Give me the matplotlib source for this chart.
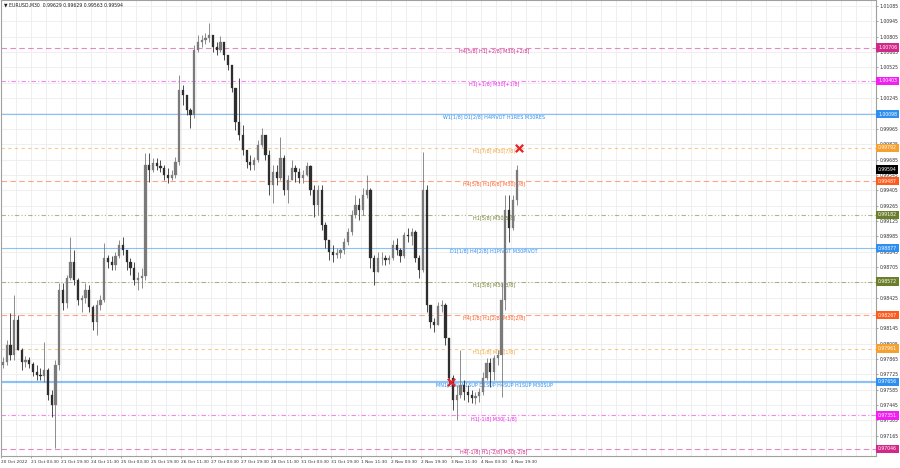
import matplotlib
matplotlib.use("Agg")
import matplotlib.pyplot as plt
import numpy as np

plt.rcParams['font.family'] = ['DejaVu Sans']

# ---- data: 2-hour aggregated candles (4 x M30 bars each) ----
highs = [0.97884, 0.98039, 0.98285, 0.98450, 0.98267, 0.97966, 0.97893, 0.97884, 0.97839, 0.97811,
         0.97784, 0.98021, 0.97784, 0.97583, 0.97857, 0.98559, 0.98559, 0.98632, 0.98979, 0.98860,
         0.98605, 0.98450, 0.98559, 0.98541, 0.98358, 0.98404, 0.98450, 0.98924, 0.98814, 0.98805,
         0.98842, 0.98951, 0.98979, 0.98860, 0.98787, 0.98751, 0.98659, 0.98696, 0.99745, 0.99745,
         0.99699, 0.99699, 0.99681, 0.99635, 0.99608, 0.99590, 0.99708, 1.00456, 1.00365, 1.00274,
         1.00155, 1.00730, 1.00821, 1.00821, 1.00839, 1.00930, 1.00821, 1.00757, 1.00812, 1.00757,
         1.00638, 1.00547, 1.00337, 1.00429, 1.00000, 0.99772, 0.99726, 0.99708, 0.99864, 0.99973,
         0.99909, 0.99772, 0.99635, 0.99635, 0.99891, 0.99726, 0.99544, 0.99681, 0.99635, 0.99608,
         0.99590, 0.99663, 0.99635, 0.99453, 0.99453, 0.99453, 0.99115, 0.98951, 0.98906, 0.98878,
         0.98878, 0.98970, 0.99061, 0.99225, 0.99362, 0.99334, 0.99425, 0.99544, 0.99425, 0.98814,
         0.98842, 0.98842, 0.98814, 0.98814, 0.98951, 0.98970, 0.98878, 0.99024, 0.99061, 0.99061,
         0.99042, 0.98814, 0.99754, 0.99453, 0.98358, 0.98240, 0.98386, 0.98404, 0.98377, 0.98057,
         0.97720, 0.97629, 0.97948, 0.97674, 0.97629, 0.97583, 0.97565, 0.97601, 0.97747, 0.97875,
         0.97875, 0.97902, 0.97948, 0.98559, 0.99362, 0.99362, 0.99362, 0.99635]
lows = [0.97784, 0.97811, 0.97857, 0.97857, 0.97948, 0.97766, 0.97793, 0.97784, 0.97711, 0.97674,
        0.97674, 0.97656, 0.97492, 0.97337, 0.97054, 0.97766, 0.98313, 0.98331, 0.98586, 0.98541,
        0.98358, 0.98295, 0.98377, 0.98295, 0.98130, 0.98085, 0.98313, 0.98386, 0.98696, 0.98678,
        0.98678, 0.98787, 0.98814, 0.98678, 0.98632, 0.98541, 0.98495, 0.98513, 0.98586, 0.99480,
        0.99571, 0.99590, 0.99571, 0.99498, 0.99471, 0.99498, 0.99517, 0.99635, 1.00182, 1.00091,
        0.99973, 1.00064, 1.00666, 1.00711, 1.00739, 1.00757, 1.00666, 1.00638, 1.00666, 1.00593,
        1.00502, 1.00301, 0.99955, 0.99864, 0.99726, 0.99608, 0.99590, 0.99590, 0.99663, 0.99799,
        0.99681, 0.99362, 0.99289, 0.99453, 0.99498, 0.99362, 0.99289, 0.99498, 0.99480, 0.99471,
        0.99471, 0.99535, 0.99362, 0.99161, 0.99179, 0.99042, 0.98878, 0.98769, 0.98751, 0.98787,
        0.98787, 0.98824, 0.98906, 0.98997, 0.99152, 0.99134, 0.99179, 0.99334, 0.98696, 0.98541,
        0.98659, 0.98723, 0.98723, 0.98732, 0.98769, 0.98814, 0.98751, 0.98787, 0.98933, 0.98906,
        0.98751, 0.98605, 0.98659, 0.98295, 0.98149, 0.98112, 0.98176, 0.98295, 0.97994, 0.97629,
        0.97401, 0.97310, 0.97510, 0.97492, 0.97474, 0.97465, 0.97456, 0.97474, 0.97538, 0.97674,
        0.97610, 0.97674, 0.97811, 0.97519, 0.98313, 0.98933, 0.99042, 0.99270]
closes = [0.97839, 0.97994, 0.97902, 0.98222, 0.97948, 0.97839, 0.97857, 0.97820, 0.97747, 0.97720,
          0.97711, 0.97766, 0.97538, 0.97446, 0.97811, 0.98495, 0.98377, 0.98605, 0.98751, 0.98586,
          0.98404, 0.98422, 0.98495, 0.98340, 0.98203, 0.98358, 0.98404, 0.98787, 0.98751, 0.98723,
          0.98805, 0.98906, 0.98860, 0.98751, 0.98696, 0.98586, 0.98605, 0.98623, 0.99635, 0.99590,
          0.99653, 0.99626, 0.99608, 0.99544, 0.99517, 0.99544, 0.99663, 1.00319, 1.00274, 1.00137,
          1.00091, 1.00684, 1.00757, 1.00775, 1.00793, 1.00821, 1.00711, 1.00684, 1.00757, 1.00638,
          1.00547, 1.00337, 1.00027, 0.99909, 0.99772, 0.99663, 0.99635, 0.99681, 0.99818, 0.99909,
          0.99726, 0.99453, 0.99571, 0.99517, 0.99699, 0.99407, 0.99498, 0.99608, 0.99571, 0.99517,
          0.99544, 0.99626, 0.99407, 0.99270, 0.99407, 0.99088, 0.98951, 0.98842, 0.98814, 0.98833,
          0.98860, 0.98933, 0.99024, 0.99179, 0.99270, 0.99225, 0.99362, 0.99407, 0.98787, 0.98659,
          0.98787, 0.98787, 0.98769, 0.98787, 0.98906, 0.98860, 0.98805, 0.98997, 0.98988, 0.99024,
          0.98787, 0.98678, 0.99407, 0.98358, 0.98203, 0.98176, 0.98349, 0.98358, 0.98057, 0.97693,
          0.97492, 0.97538, 0.97629, 0.97565, 0.97538, 0.97510, 0.97528, 0.97565, 0.97693, 0.97829,
          0.97747, 0.97875, 0.97902, 0.98404, 0.99225, 0.99061, 0.99316, 0.99594]
first_open = 0.97811
bars_per_candle = 4

# ---- level lines ----
level_prices = [1.00706, 1.00403, 1.00098, 0.99792, 0.99487, 0.99182, 0.98877,
                0.98572, 0.98267, 0.97961, 0.97656, 0.97351, 0.97046]
level_texts = ["H4[5/8] H1[+2/8] M30[+2/8]", "H1[+1/8] M30[+1/8]",
               "W1[1/8] D1[2/8] H4PIVOT H1RES M30RES", "H1[7/8] M30[7/8]",
               "H4[5/8] H1[6/8] M30[6/8]", "H1[5/8] M30[5/8]",
               "D1[1/8] H4[2/8] H1PIVOT M30PIVOT", "H1[3/8] M30[3/8]",
               "H4[1/8] H1[2/8] M30[2/8]", "H1[1/8] M30[1/8]",
               "MN1[6/8] W1SUP D1SUP H4SUP H1SUP M30SUP", "H1[-1/8] M30[-1/8]",
               "H4[-1/8] H1[-2/8] M30[-2/8]"]
level_colors = ["#D1288A", "#F020F0", "#2E8FF0", "#F5A030", "#FF5A1E", "#6B7F2A", "#2E8FF0",
                "#6B7F2A", "#FF5A1E", "#F5A030", "#2E8FF0", "#F020F0", "#D1288A"]
level_styles = [(0, (5, 3)), (0, (4, 2, 1, 2)), '-', (0, (3, 3)), (0, (5, 3)), (0, (4, 2, 1, 2, 1, 2)),
                '-', (0, (4, 2, 1, 2, 1, 2)), (0, (5, 3)), (0, (3, 3)), '-', (0, (4, 2, 1, 2)), (0, (5, 3))]
level_widths = [0.8, 0.8, 0.8, 0.8, 0.8, 0.8, 0.8, 0.8, 0.8, 0.8, 1.6, 0.8, 0.8]

current_price = 0.99594
marker_bars = [553, 480]
marker_prices = [0.99792, 0.97656]

ytick_values = [0.97165, 0.97305, 0.97445, 0.97585, 0.97725, 0.97865, 0.98005, 0.98145, 0.98285,
                0.98425, 0.98565, 0.98705, 0.98845, 0.98985, 0.99125, 0.99265, 0.99405, 0.99545,
                0.99685, 0.99825, 0.99965, 1.00105, 1.00245, 1.00385, 1.00525, 1.00665, 1.00805,
                1.00945, 1.01085]
xtick_labels = ["20 Oct 2022", "21 Oct 03:30", "21 Oct 19:30", "24 Oct 11:30", "25 Oct 03:30",
                "25 Oct 19:30", "26 Oct 11:30", "27 Oct 03:30", "27 Oct 19:30", "28 Oct 11:30",
                "31 Oct 03:30", "31 Oct 19:30", "1 Nov 11:30", "2 Nov 03:30", "2 Nov 19:30",
                "3 Nov 11:30", "4 Nov 03:30", "4 Nov 19:30"]
bars_per_label = 32

title_text = "\u25BC EURUSD,M30  0.99629 0.99629 0.99563 0.99594"

# ---- figure ----
W, H = 900, 468
fig = plt.figure(figsize=(W / 100, H / 100), dpi=100)
ax = fig.add_axes([1 / W, 12 / H, 875 / W, 456 / H])
ax.set_facecolor('white')
ax.set_xlim(0, 875 / 0.9375)
ax.set_ylim(0.96981, 1.01140)

# grid
for yv in ytick_values:
    ax.axhline(yv, color='#ececec', lw=0.6, zorder=0)
for xb in np.arange(0, 940, bars_per_label / 2):
    ax.axvline(xb, color='#ececec', lw=0.6, zorder=0)

# levels
for p, c, ls, lw in zip(level_prices, level_colors, level_styles, level_widths):
    ax.axhline(p, color=c, ls=ls, lw=lw, alpha=0.55, zorder=1)
for p, t, c in zip(level_prices, level_texts, level_colors):
    ax.text(526, p - 0.00004, t, color=c, fontsize=3.5, ha='center', va='top', zorder=2)

# candles
opens = [first_open] + closes[:-1]
n = len(closes)
xc = np.arange(n) * bars_per_candle + bars_per_candle / 2
for x, o, h, l, c in zip(xc, opens, highs, lows, closes):
    col = '#2e2e2e' if c < o else '#7a7a7a'
    ax.vlines(x, l, h, color=col, lw=0.6, zorder=3)
    bot = min(o, c)
    hgt = max(abs(c - o), 0.00004)
    ax.bar(x, hgt, bottom=bot, width=2.4, color=col, edgecolor=col, lw=0.2, zorder=3)

# markers
ax.scatter(marker_bars, marker_prices, marker='x', s=28, color='#E8202A', linewidths=1.6, zorder=5)

# axes styling
for s in ['top', 'left', 'bottom', 'right']:
    ax.spines[s].set_color('#a0a0a0')
    ax.spines[s].set_linewidth(0.8)
ax.yaxis.tick_right()
ax.set_yticks(ytick_values)
ax.set_yticklabels([f"{v:.5f}" for v in ytick_values])
ax.tick_params(axis='y', labelsize=3.3, length=1.5, width=0.5, color='#808080', pad=1.2, labelcolor='#303030')
xt = np.arange(len(xtick_labels)) * bars_per_label
ax.set_xticks(xt)
ax.set_xticklabels(xtick_labels, ha='left')
ax.tick_params(axis='x', labelsize=3.1, length=1.5, width=0.5, color='#808080', pad=1.5, labelcolor='#303030')

# right price boxes
for p, c in zip(level_prices, level_colors):
    ax.annotate(f"{p:.5f}", xy=(1.0, p), xycoords=('axes fraction', 'data'),
                xytext=(1.5, 0), textcoords='offset points', ha='left', va='center',
                fontsize=3.3, color='white', annotation_clip=False, zorder=10,
                bbox=dict(boxstyle='square,pad=0.35', fc=c, ec=c, lw=0))
ax.annotate(f"{current_price:.5f}", xy=(1.0, current_price), xycoords=('axes fraction', 'data'),
            xytext=(1.5, 0), textcoords='offset points', ha='left', va='center',
            fontsize=3.3, color='white', annotation_clip=False, zorder=10,
            bbox=dict(boxstyle='square,pad=0.35', fc='black', ec='black', lw=0))

ax.text(0.004, 0.994, title_text, transform=ax.transAxes, fontsize=3.3, ha='left', va='top',
        color='#202020', zorder=6)

fig.savefig("out.png", dpi=100, facecolor='white')
